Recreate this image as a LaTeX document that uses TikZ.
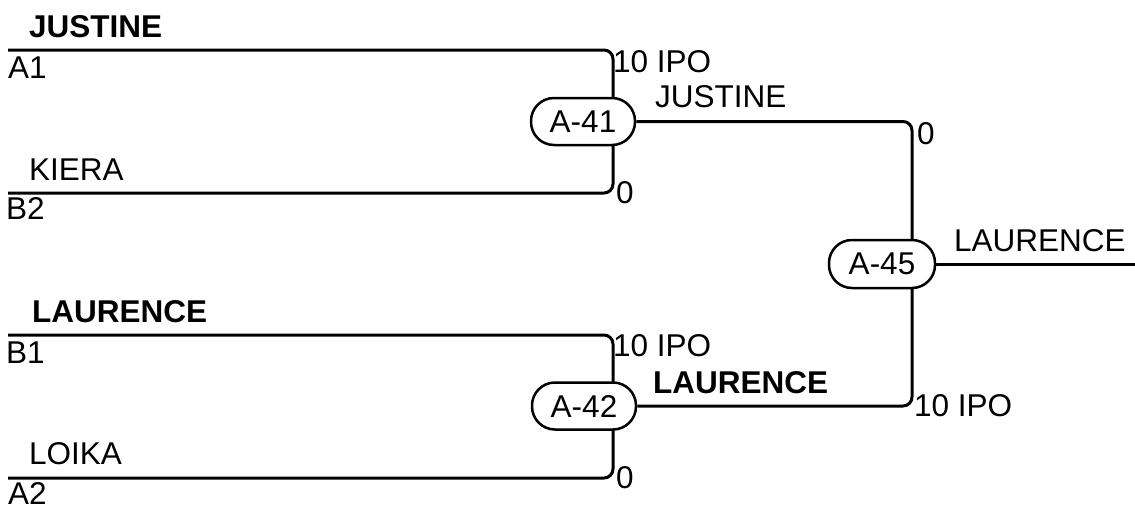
\documentclass[tikz,border=0pt]{standalone}
\usepackage{fontspec}
\setmainfont{Liberation Sans}
\usetikzlibrary{backgrounds}
\begin{document}
\begin{tikzpicture}[x=1pt,y=-1pt,
  txt/.style={anchor=base west,inner sep=0pt,font=\fontsize{31.5}{36}\selectfont},
  btxt/.style={txt,font=\fontsize{31.5}{36}\selectfont\bfseries},
  match/.style={draw,line width=2.5pt,fill=white,rounded corners=23pt,minimum width=104pt,minimum height=47pt,inner sep=0pt,font=\fontsize{31.5}{36}\selectfont},
  wire/.style={line width=3pt,rounded corners=9pt}]
\useasboundingbox (0,0) rectangle (1135,504);
% match nodes
\node[match] (n41) at (583,121.5) {A-41};
\node[match] (n42) at (584,406) {A-42};
\node[match,minimum width=106pt,minimum height=48pt] (n45) at (882,264) {A-45};
% coordinates
\coordinate (a1) at (8,50);
\coordinate (b2) at (8,193);
\coordinate (b1) at (8,335);
\coordinate (a2) at (8,478);
\coordinate (j41) at (613,121.5);
\coordinate (j42) at (613,406);
\coordinate (j45) at (912,264);
\coordinate (out) at (1135,264);
\begin{pgfonlayer}{background}
\draw[wire] (a1) -| (j41);
\draw[wire] (b2) -| (j41);
\draw[wire] (b1) -| (j42);
\draw[wire] (a2) -| (j42);
\draw[wire] (n41.east) -| (j45);
\draw[wire] (n42.east) -| (j45);
\draw[wire] (n45.east) -- (out);
\end{pgfonlayer}
% labels
\node[btxt] (l1) at (29,37) {JUSTINE};
\node[txt] (l2) at (8,78) {A1};
\node[txt] (l3) at (29,180) {KIERA};
\node[txt] (l4) at (6,219) {B2};
\node[btxt] (l5) at (32,322) {LAURENCE};
\node[txt] (l6) at (6,363) {B1};
\node[txt] (l7) at (29,464) {LOIKA};
\node[txt] (l8) at (8,504) {A2};
\node[txt] (s1) at (613,72) {10 IPO};
\node[txt] (s2) at (616,203) {0};
\node[txt] (w1) at (655,107) {JUSTINE};
\node[txt] (s3) at (613,356) {10 IPO};
\node[txt] (s4) at (616,488) {0};
\node[btxt] (w2) at (653,393) {LAURENCE};
\node[txt] (s5) at (917,144) {0};
\node[txt] (s6) at (914,416) {10 IPO};
\node[txt] (w3) at (954,251) {LAURENCE};
\end{tikzpicture}
\end{document}
